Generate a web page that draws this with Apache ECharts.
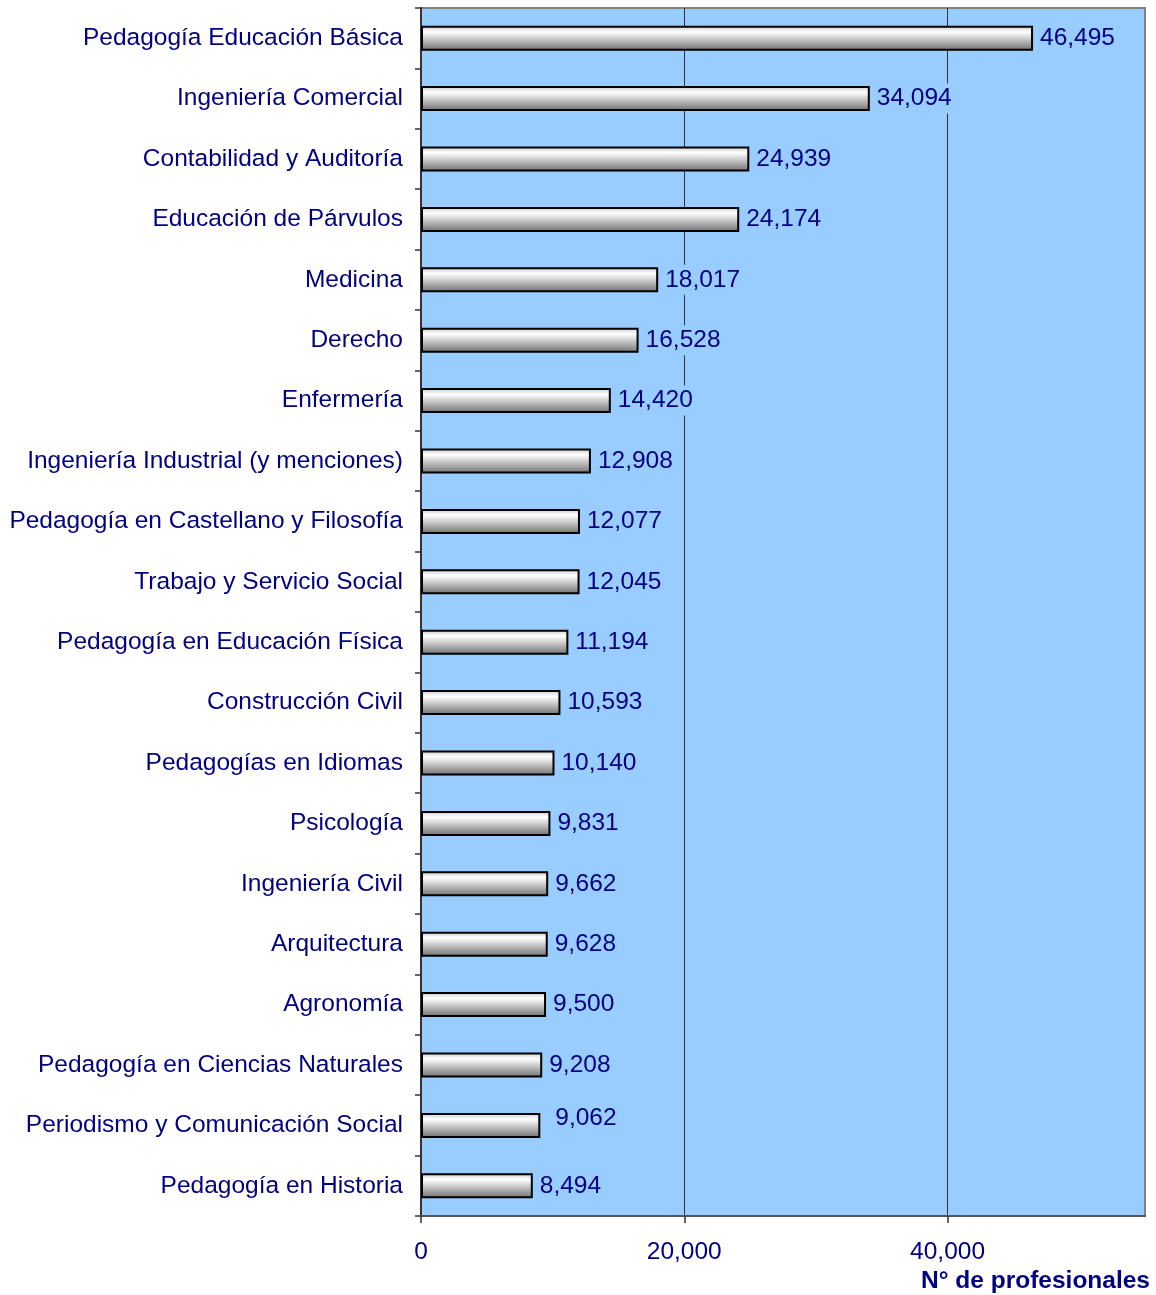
<!DOCTYPE html>
<html>
<head>
<meta charset="utf-8">
<script src="https://cdn.jsdelivr.net/npm/echarts@6/dist/echarts.min.js"></script>
<style>
  html, body { margin: 0; padding: 0; background: #fff; }
  #main_charts { width: 1156px; height: 1295px; }
</style>
</head>
<body>
<div id="main_charts"></div>
<script>
  var carreras = ['Pedagogía Educación Básica', 'Ingeniería Comercial', 'Contabilidad y Auditoría',
    'Educación de Párvulos', 'Medicina', 'Derecho', 'Enfermería', 'Ingeniería Industrial (y menciones)',
    'Pedagogía en Castellano y Filosofía', 'Trabajo y Servicio Social', 'Pedagogía en Educación Física',
    'Construcción Civil', 'Pedagogías en Idiomas', 'Psicología', 'Ingeniería Civil', 'Arquitectura',
    'Agronomía', 'Pedagogía en Ciencias Naturales', 'Periodismo y Comunicación Social', 'Pedagogía en Historia'];
  var profesionales = [46495, 34094, 24939, 24174, 18017, 16528, 14420, 12908, 12077, 12045,
    11194, 10593, 10140, 9831, 9662, 9628, 9500, 9208, 9062, 8494];
  var ticksX = [0, 20000, 40000];

  var myChart = echarts.init(document.getElementById('main_charts'));
  var azul = '#000080';
  var fuente = 'Liberation Sans, Arial';

  // la etiqueta de Periodismo va un poco desplazada en el original
  var datos = profesionales.map(function (v, i) {
    if (i === 18) return { value: v, label: { offset: [8, -7] } };
    return v;
  });

  var option = {
    animation: false,
    grid: { left: 421, right: 11, top: 8, bottom: 79, show: true,
      backgroundColor: '#99CCFF', borderColor: '#808080', borderWidth: 2 },
    xAxis: {
      type: 'value', min: 0, max: 55000, interval: 20000,
      axisLine: { show: true, lineStyle: { color: '#555', width: 2 } },
      axisTick: { show: true, length: 7, customValues: ticksX, lineStyle: { color: '#333', width: 1.5 } },
      axisLabel: { customValues: ticksX, color: azul, fontSize: 24.5, fontFamily: fuente, margin: 24,
        formatter: function (v) { return v.toLocaleString('en-US'); } },
      splitLine: { show: true, lineStyle: { color: '#333', width: 1 } }
    },
    yAxis: {
      type: 'category', data: carreras, inverse: true,
      axisLine: { show: true, lineStyle: { color: '#333', width: 2 } },
      axisTick: { show: true, length: 6, lineStyle: { color: '#333', width: 1.5 } },
      axisLabel: { color: azul, fontSize: 24.5, fontFamily: fuente, margin: 18, padding: [3, 0, 0, 0] }
    },
    series: [{
      type: 'bar', data: datos, barWidth: 25,
      itemStyle: {
        borderColor: '#000', borderWidth: 2,
        color: new echarts.graphic.LinearGradient(0, 0, 0, 1, [
          { offset: 0, color: '#c8c8c8' },
          { offset: 0.25, color: '#ffffff' },
          { offset: 1, color: '#6e6e6e' }
        ])
      },
      label: {
        show: true, position: 'right', distance: 5, color: azul, fontSize: 24.5,
        fontFamily: fuente, backgroundColor: '#99CCFF', padding: [4, 2, 1, 2],
        formatter: function (p) { return p.value.toLocaleString('en-US'); }
      }
    }],
    graphic: [{
      type: 'text', right: 6, top: 1269,
      style: { text: 'N° de profesionales', fill: azul, font: 'bold 24.5px Liberation Sans, Arial' }
    }]
  };
  myChart.setOption(option);
</script>
</body>
</html>
